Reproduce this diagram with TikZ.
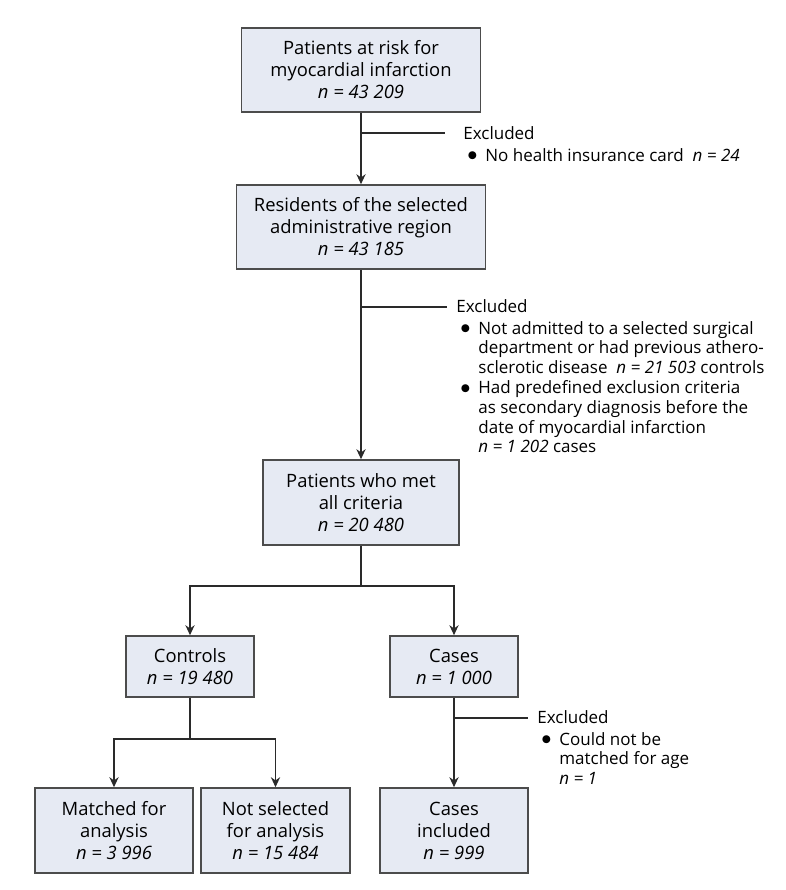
\documentclass[tikz,border=0pt]{standalone}
\usepackage{fontspec}
\setmainfont{Open Sans}
\usetikzlibrary{positioning,arrows.meta,calc}
\definecolor{boxfill}{HTML}{E6EAF3}
\definecolor{linegray}{HTML}{2A2A2A}
\newcommand{\exbul}{\hspace*{2pt}\makebox[9pt][l]{\raisebox{0.2pt}{\scalebox{1.2}{$\bullet$}}}}
\newcommand{\exind}{\hspace*{11pt}}
\tikzset{
  flowarrow/.style={-{Stealth[length=5pt, width=4.6pt]}, line width=0.7pt, draw=linegray},
  flowline/.style={line width=0.7pt, draw=linegray},
  stepbox/.style={draw=black!70, line width=0.8pt, fill=boxfill, align=center, inner sep=0pt, font=\fontsize{9.2}{11}\selectfont},
  exclnote/.style={align=left, inner sep=0pt, anchor=north west, font=\fontsize{8.5}{9.9}\selectfont}
}

\begin{document}
\begin{tikzpicture}[x=0.5pt, y=-0.5pt]
  \useasboundingbox (0,0) rectangle (786,890);
  \node[stepbox, minimum width=119.5pt, minimum height=42pt] (atrisk) at (361,70) {Patients at risk for\\myocardial infarction\\\textit{n = 43 209}};
  \node[stepbox, minimum width=124.5pt, minimum height=42pt] (region) at (361,227) {Residents of the selected\\administrative region\\\textit{n = 43 185}};
  \node[stepbox, minimum width=98pt, minimum height=42.5pt] (allmet) at (361,502.5) {Patients who met\\all criteria\\\textit{n = 20 480}};
  \node[stepbox, minimum width=64pt, minimum height=30.5pt] (controls) at (190,666.5) {Controls\\\textit{n = 19 480}};
  \node[stepbox, minimum width=64pt, minimum height=30.5pt] (cases) at (454,666.5) {Cases\\\textit{n = 1 000}};
  \node[stepbox, minimum width=79pt, minimum height=42.5pt] (matched) at (114,830.5) {Matched for\\analysis\\\textit{n = 3 996}};
  \node[stepbox, minimum width=74.5pt, minimum height=42.5pt] (notsel) at (275.5,830.5) {Not selected\\for analysis\\\textit{n = 15 484}};
  \node[stepbox, minimum width=74pt, minimum height=42.5pt] (included) at (454,830.5) {Cases\\included\\\textit{n = 999}};

  \node[exclnote] (excl1) at (463,126) {Excluded\\[1pt]
    \exbul No health insurance card\ \ \textit{n = 24}};
  \node[exclnote] (excl2) at (456,299) {Excluded\\[1pt]
    \exbul Not admitted to a selected surgical\\
    \exind department or had previous athero-\\
    \exind sclerotic disease\ \ \textit{n = 21 503} controls\\
    \exbul Had predefined exclusion criteria\\
    \exind as secondary diagnosis before the\\
    \exind date of myocardial infarction\\
    \exind \textit{n = 1 202} cases};
  \node[exclnote] (excl3) at (537,710) {Excluded\\[1pt]
    \exbul Could not be\\
    \exind matched for age\\
    \exind \textit{n = 1}};

  \coordinate (br1) at (361,133);
  \coordinate (br2) at (361,307);
  \coordinate (br3) at (454,718);
  \coordinate (split1) at (361,586);
  \coordinate (split2) at (190,739);

  \draw[flowarrow] (atrisk) -- (region);
  \draw[flowarrow] (region) -- (allmet);
  \draw[flowline] (br1) -- ($(excl1.north west |- br1)+(-18,0)$);
  \draw[flowline] (br2) -- ($(excl2.north west |- br2)+(-9,0)$);
  \draw[flowline] (allmet) -- (split1);
  \draw[flowarrow] (split1) -| (controls);
  \draw[flowarrow] (split1) -| (cases);
  \draw[flowline] (controls) -- (split2);
  \draw[flowarrow] (split2) -| (matched);
  \draw[flowarrow] (split2) -| (notsel);
  \draw[flowarrow] (cases) -- (included);
  \draw[flowline] (br3) -- ($(excl3.north west |- br3)+(-9,0)$);
\end{tikzpicture}
\end{document}
